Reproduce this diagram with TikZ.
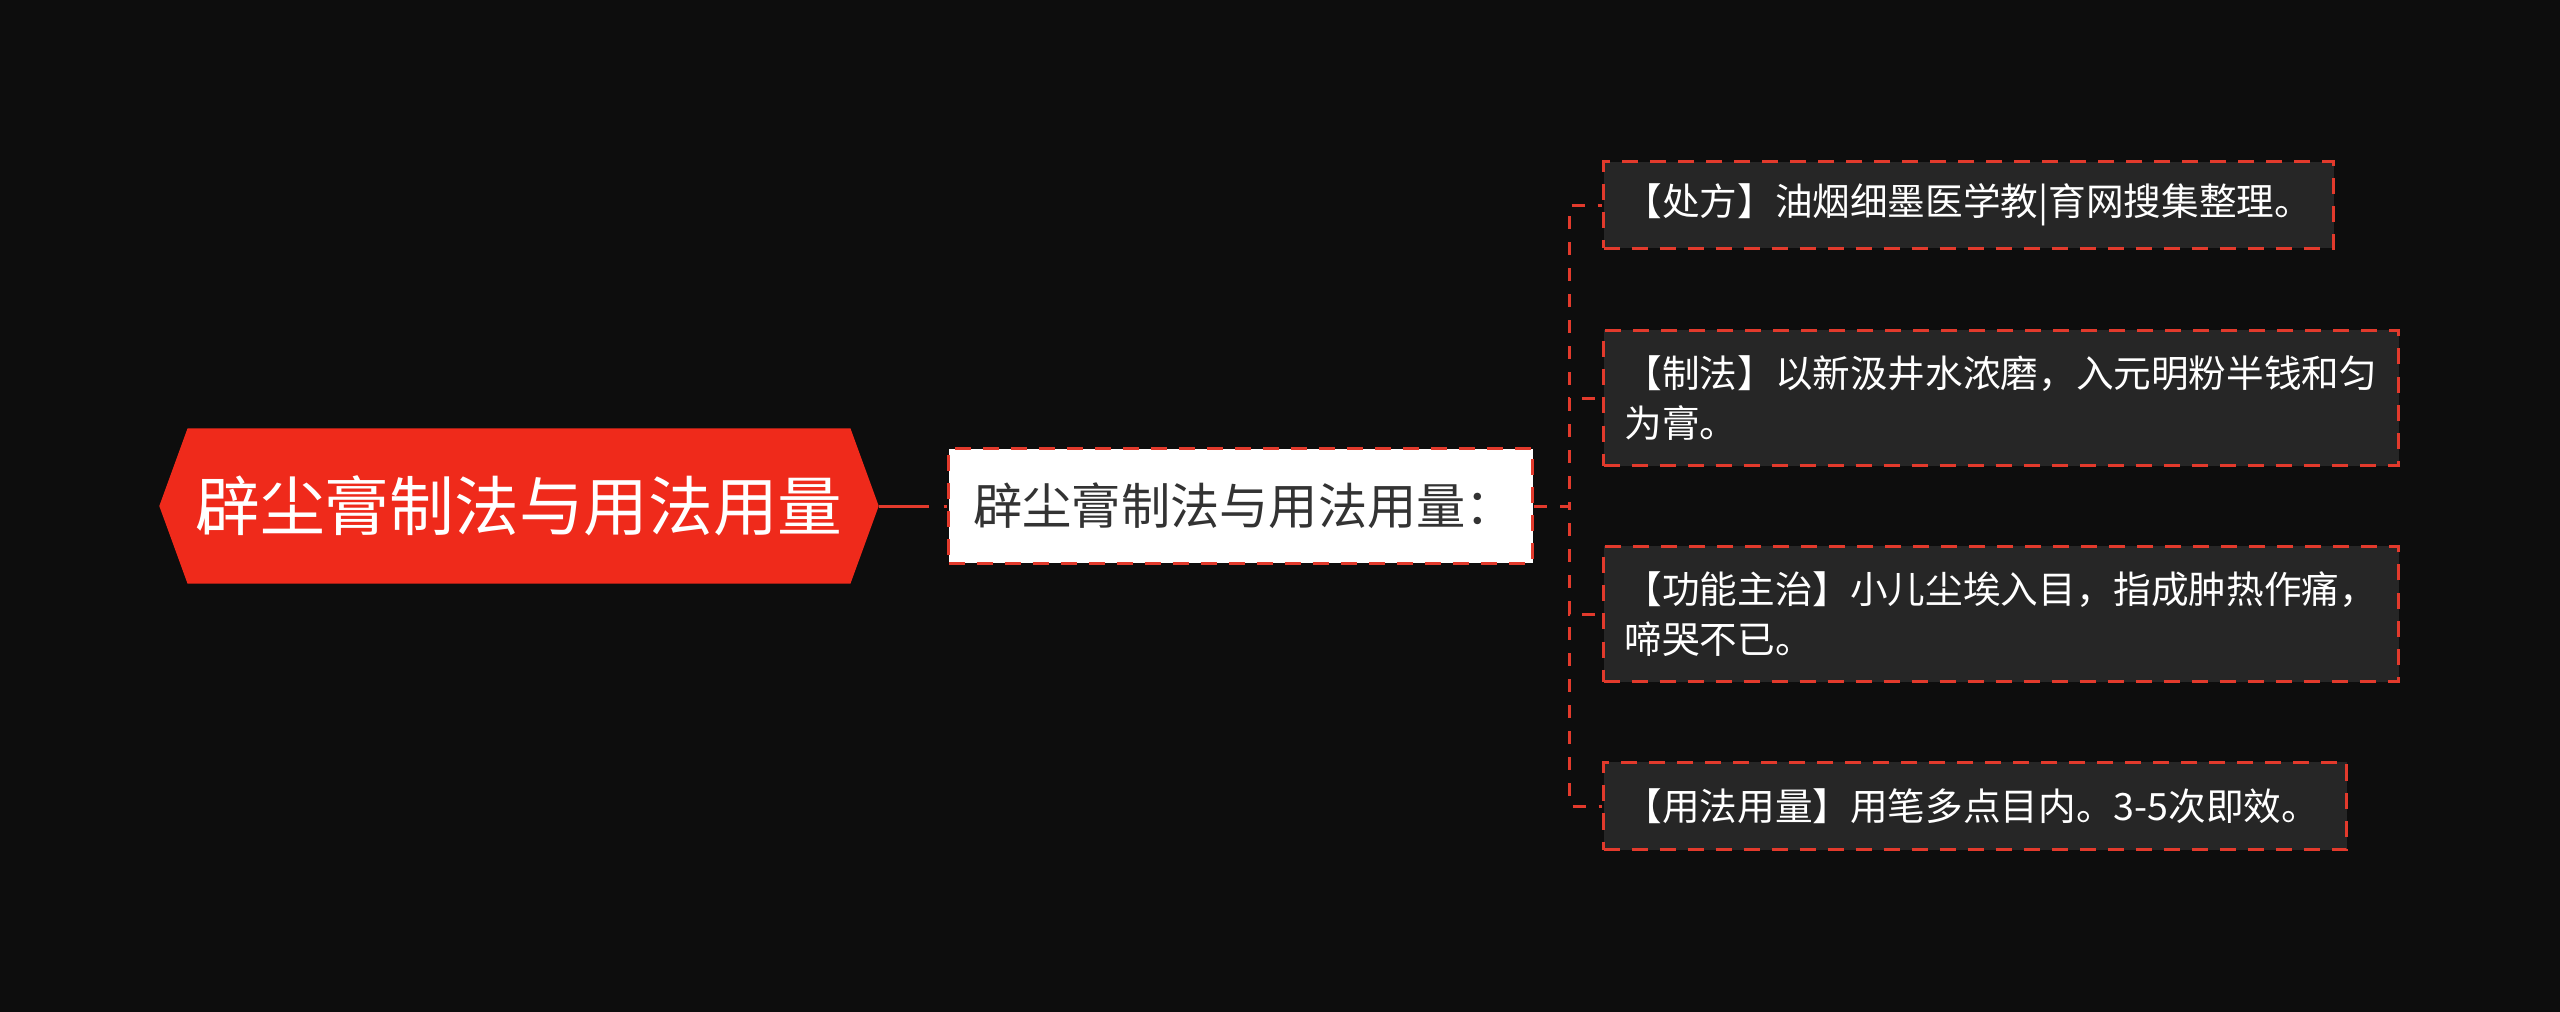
\documentclass[tikz,border=0pt]{standalone}
\usepackage{fontspec}
\setmainfont{Noto Sans CJK SC}
\usetikzlibrary{positioning,shapes.symbols}
\definecolor{bgblack}{HTML}{0D0D0D}
\definecolor{rootred}{HTML}{EF2A1B}
\definecolor{linered}{HTML}{E23A2C}
\definecolor{leafgray}{HTML}{262626}
\definecolor{subtext}{HTML}{333333}

\begin{document}
\begin{tikzpicture}[x=0.01cm,y=-0.01cm,
	rootnode/.style={signal,signal to=west and east,signal pointer angle=140,fill=rootred,text=white,
		minimum width=7.19cm,minimum height=1.55cm,inner sep=0pt,font=\fontsize{18.4}{22}\selectfont},
	boxdash/.style={draw=linered,line width=0.03cm,dash pattern=on 0.16cm off 0.12cm},
	subnode/.style={boxdash,fill=white,text=subtext,anchor=west,minimum height=1.14cm,
		text width=5.34cm,inner xsep=0.25cm,align=left,font=\fontsize{14}{17}\selectfont},
	leafnode/.style={boxdash,fill=leafgray,text=white,anchor=west,inner xsep=0.21cm,inner ysep=0pt,
		align=left,font=\fontsize{10.7}{14.2}\selectfont},
	rootlink/.style={draw=linered,line width=0.03cm,dash pattern=on 0.5cm off 0.14cm},
	link/.style={draw=linered,line width=0.03cm,dash pattern=on 0.13cm off 0.13cm}]
	\fill[bgblack] (0,0) rectangle (2560,1012); % fond
	\useasboundingbox (0,0) rectangle (2560,1012);
	% noeud central
	\node[rootnode] (root) at (519,506) {辟尘膏制法与用法用量};
	\node[subnode] (sub) at (947,506) {辟尘膏制法与用法用量：};
	\draw[rootlink] (root.east) -- (sub.west);
	% feuilles
	\node[leafnode,text width=6.88cm,minimum height=0.86cm] (chufang) at (1602,205) {【处方】油烟细墨医学教|育网搜集整理。};
	\node[leafnode,text width=7.53cm,minimum height=1.35cm] (zhifa) at (1602,398) {【制法】以新汲井水浓磨，入元明粉半钱和匀\\为膏。};
	\node[leafnode,text width=7.53cm,minimum height=1.35cm] (gongneng) at (1602,614) {【功能主治】小儿尘埃入目，指成肿热作痛，\\啼哭不已。};
	\node[leafnode,text width=7.01cm,minimum height=0.87cm] (yongfa) at (1602,806) {【用法用量】用笔多点目内。3-5次即效。};
	\foreach \n in {chufang,zhifa,gongneng,yongfa}
		\draw[link] (sub.east) -- ++(35,0) |- (\n.west);
\end{tikzpicture}
\end{document}
